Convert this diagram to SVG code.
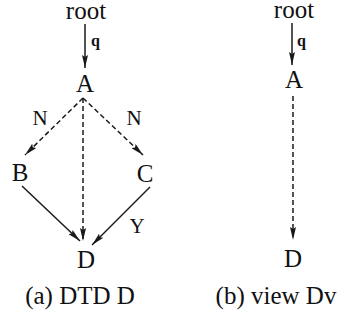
<svg xmlns="http://www.w3.org/2000/svg" width="355" height="326" viewBox="0 0 355 326">
<style>
text{font-family:"Liberation Serif",serif;fill:#111;text-anchor:middle}
.n{font-size:25px}
.l{font-size:21px}
.q{font-size:16px;font-weight:bold;text-anchor:start}
.cap{font-size:25px}
.s{stroke:#1a1a1a;stroke-width:1.5;fill:none;marker-end:url(#ah)}
.d{stroke-dasharray:5 3}
</style>
<defs>
<marker id="ah" viewBox="0 0 13 6" refX="13" refY="3" markerWidth="13" markerHeight="6" markerUnits="userSpaceOnUse" orient="auto">
<path d="M0,0 L13,3 L0,6 L2,3 Z" fill="#1a1a1a"/>
</marker>
</defs>
<rect width="355" height="326" fill="#fff"/>
<g id="connectors">
<line class="s" x1="85" y1="24" x2="85" y2="68"/>
<line class="s d" x1="83" y1="98" x2="25" y2="155"/>
<line class="s d" x1="83" y1="98" x2="143" y2="155"/>
<line class="s d" x1="83" y1="98" x2="83" y2="241"/>
<line class="s" x1="22" y1="186" x2="80" y2="241"/>
<line class="s" x1="150" y1="187" x2="92" y2="245"/>
<line class="s" x1="292" y1="23" x2="292" y2="65"/>
<line class="s d" x1="293" y1="96" x2="293" y2="240"/>
</g>
<g id="labels">
<text class="q" x="91" y="46">q</text>
<text class="l" x="40" y="125">N</text>
<text class="l" x="134" y="125">N</text>
<text class="l" x="137" y="233">Y</text>
<text class="q" x="297" y="46">q</text>
</g>
<g id="root1"><text class="n" x="86" y="19">root</text></g>
<g id="A1"><text class="n" x="85" y="92">A</text></g>
<g id="B1"><text class="n" x="20" y="181">B</text></g>
<g id="C1"><text class="n" x="145" y="182">C</text></g>
<g id="D1"><text class="n" x="86" y="268">D</text></g>
<g id="root2"><text class="n" x="294" y="18">root</text></g>
<g id="A2"><text class="n" x="294" y="88">A</text></g>
<g id="D2"><text class="n" x="293" y="267">D</text></g>
<g id="captions">
<text class="cap" x="80" y="304">(a) DTD D</text>
<text class="cap" x="276" y="304">(b) view Dv</text>
</g>
</svg>
